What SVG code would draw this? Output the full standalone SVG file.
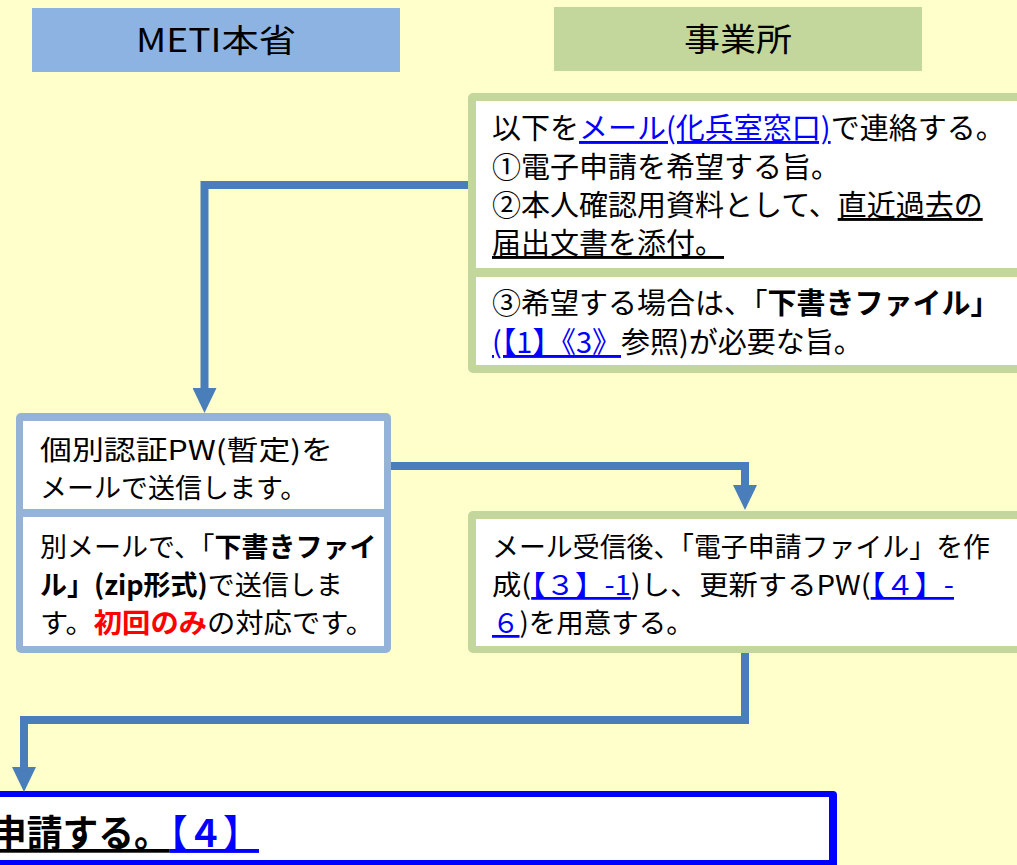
<svg xmlns="http://www.w3.org/2000/svg" width="1017" height="865" viewBox="0 0 1017 865">
  <defs>
    <style>
      .t { font-family: "Noto Sans CJK JP", "Noto Sans", sans-serif; fill: #000; }
      .hdr { font-family: "Noto Sans CJK JP", sans-serif; font-size: 32px; fill: #000; text-anchor: middle; }
      .lk { fill: #0000FF; text-decoration: underline; }
      .ul { text-decoration: underline; }
      .b { font-weight: bold; }
      .red { fill: #FF0000; font-weight: bold; }
      .conn { fill: none; stroke: #4A7EBB; stroke-width: 8; stroke-linejoin: miter; }
      .white { fill: #FFFFFF; }
    </style>
    <marker id="arrow" markerUnits="userSpaceOnUse" markerWidth="26" markerHeight="24" refX="1" refY="12" orient="auto">
      <path d="M0,0 L25,12 L0,24 Z" fill="#4A7EBB"/>
    </marker>
  </defs>

  <rect x="0" y="0" width="1017" height="865" fill="#FFFFCC"/>

  <g id="header-meti">
    <rect x="32" y="8" width="368" height="64" fill="#8DB3E2"/>
    <text class="hdr" x="216" y="52" textLength="160" lengthAdjust="spacingAndGlyphs">METI本省</text>
  </g>

  <g id="header-jigyosho">
    <rect x="554" y="7" width="368" height="64" fill="#C3D69B"/>
    <text class="hdr" x="738" y="51" textLength="108" lengthAdjust="spacingAndGlyphs">事業所</text>
  </g>

  <g id="node-contact">
    <rect x="468" y="93" width="560" height="280" rx="5" fill="#C3D69B"/>
    <rect class="white" x="476" y="101" width="545" height="167"/>
    <rect class="white" x="476" y="277" width="545" height="88"/>
    <text class="t" font-size="29" x="492" y="139">以下を<tspan class="lk">メール(化兵室窓口)</tspan>で連絡する。</text>
    <text class="t" font-size="29" x="492" y="178">①電子申請を希望する旨。</text>
    <text class="t" font-size="29" x="492" y="216">②本人確認用資料として、<tspan class="ul">直近過去の</tspan></text>
    <text class="t" font-size="29" x="492" y="254"><tspan class="ul">届出文書を添付。</tspan></text>
    <text class="t" font-size="29" x="492" y="314">③希望する場合は、「<tspan class="b">下書きファイル」</tspan></text>
    <text class="t" font-size="29" x="492" y="353"><tspan class="lk">(【1】《3》</tspan>参照)が必要な旨。</text>
  </g>

  <g id="node-pw">
    <rect x="16" y="413" width="375" height="240" rx="5" fill="#95B3D7"/>
    <rect class="white" x="23" y="421" width="361" height="88"/>
    <rect class="white" x="23" y="517" width="361" height="129"/>
    <text class="t" font-size="27" x="40" y="460" textLength="293" lengthAdjust="spacingAndGlyphs">個別認証PW(暫定)を</text>
    <text class="t" font-size="27" x="40" y="498">メールで送信します。</text>
    <text class="t" font-size="27" x="40" y="557">別メールで、「<tspan class="b">下書きファイ</tspan></text>
    <text class="t" font-size="27" x="40" y="595"><tspan class="b">ル」(zip形式)</tspan>で送信しま</text>
    <text class="t" font-size="27" x="40" y="633" textLength="334" lengthAdjust="spacingAndGlyphs">す。<tspan class="red">初回のみ</tspan>の対応です。</text>
  </g>

  <g id="node-create">
    <rect x="468" y="511" width="560" height="142" rx="5" fill="#C3D69B"/>
    <rect class="white" x="476" y="519" width="545" height="127"/>
    <text class="t" font-size="27.5" x="492" y="557" textLength="498" lengthAdjust="spacingAndGlyphs">メール受信後、「電子申請ファイル」を作</text>
    <text class="t" font-size="27.5" x="492" y="595" textLength="462" lengthAdjust="spacingAndGlyphs">成(<tspan class="lk">【３】-1</tspan>)し、更新するPW(<tspan class="lk">【４】-</tspan></text>
    <text class="t" font-size="27.5" x="492" y="633"><tspan class="lk">６</tspan>)を用意する。</text>
  </g>

  <g id="node-apply">
    <rect x="-10" y="791" width="847" height="80" rx="4" fill="#0000FF"/>
    <rect class="white" x="-2" y="797" width="831" height="63"/>
    <text class="t b ul" font-size="37" x="-9" y="847" textLength="268" lengthAdjust="spacingAndGlyphs">申請する。<tspan class="lk b">【４】</tspan></text>
  </g>

  <g id="connectors">
    <path class="conn" d="M468,185 H204.5 V389" marker-end="url(#arrow)"/>
    <path class="conn" d="M391,466 H745 V486" marker-end="url(#arrow)"/>
    <path class="conn" d="M745,653 V720 H24 V768" marker-end="url(#arrow)"/>
  </g>
</svg>
